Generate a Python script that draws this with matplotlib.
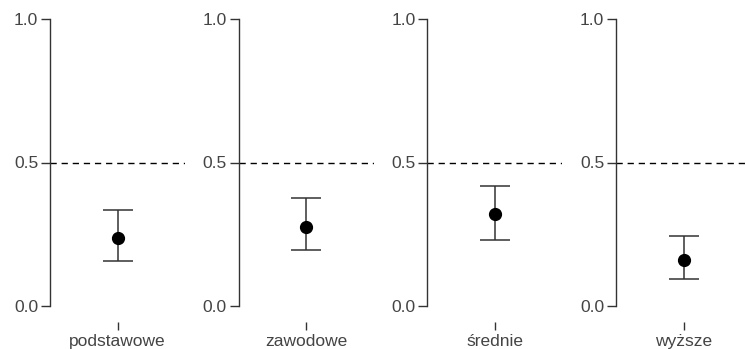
import matplotlib.pyplot as plt

plt.rcParams['font.family'] = ['Liberation Sans', 'DejaVu Sans']

groups = ['podstawowe', 'zawodowe', 'średnie', 'wyższe']
est = [0.238, 0.277, 0.319, 0.160]
lower = [0.158, 0.194, 0.229, 0.093]
upper = [0.333, 0.375, 0.418, 0.244]

fig = plt.figure(figsize=(7.46, 3.49), dpi=100)
fig.patch.set_facecolor('white')

left0 = 50 / 746
step = 188.7 / 746
width = 135 / 746
bottom = 1 - 306 / 349
height = (306 - 19) / 349

txt = '#444444'
line = '#333333'

for i, g in enumerate(groups):
    ax = fig.add_axes([left0 + i * step, bottom, width, height])
    ax.errorbar([0], [est[i]],
                yerr=[[est[i] - lower[i]], [upper[i] - est[i]]],
                fmt='o', color='black', ecolor=line, elinewidth=1.1,
                capsize=11, capthick=1.1, markersize=8.5, zorder=3)
    ax.axhline(0.5, color='black', linestyle=(0, (4.5, 3.5)), linewidth=1.0)
    ax.set_xlim(-1, 1)
    ax.set_ylim(0, 1)
    ax.set_yticks([0.0, 0.5, 1.0])
    ax.set_yticklabels(['0.0', '0.5', '1.0'])
    ax.set_xticks([0])
    ax.set_xticklabels([g])
    for s in ['top', 'right']:
        ax.spines[s].set_visible(False)
    ax.spines['bottom'].set_position(('outward', 11.5))
    ax.spines['bottom'].set_visible(False)
    ax.spines['left'].set_color(line)
    ax.spines['left'].set_linewidth(1.0)
    ax.tick_params(axis='y', length=6.5, width=1.0, color=line,
                   labelsize=12.5, labelcolor=txt, pad=2)
    ax.tick_params(axis='x', length=6, width=1.0, color=line,
                   labelsize=12.5, labelcolor=txt, pad=2.5)
    ax.patch.set_alpha(0)

fig.savefig('out.png', dpi=100)
